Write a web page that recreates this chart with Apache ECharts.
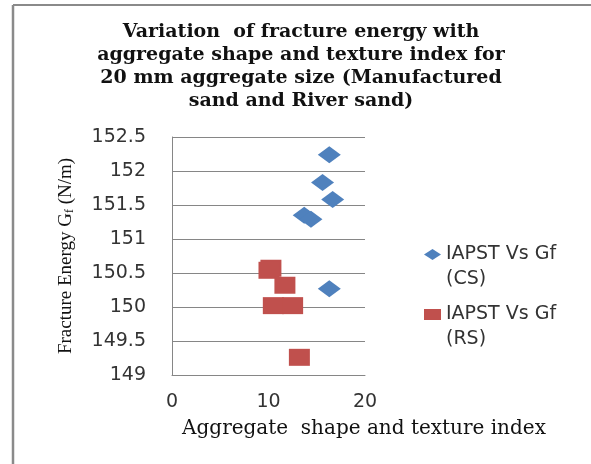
<!DOCTYPE html>
<html>
<head>
<meta charset="utf-8">
<script src="https://cdn.jsdelivr.net/npm/echarts@6/dist/echarts.min.js"></script>
<style>html,body{margin:0;padding:0;background:#fff;}#c{width:591px;height:464px;}</style>
</head>
<body>
<div id="c"></div>
<script>
const seriesNames = ['IAPST Vs Gf (CS)', 'IAPST Vs Gf (RS)'];
const csX = [16.3, 15.6, 16.65, 13.7, 14.4, 16.3];
const csY = [152.24, 151.83, 151.58, 151.35, 151.29, 150.27];
const rsX = [10.25, 10.05, 11.7, 10.5, 12.5, 13.2];
const rsY = [150.57, 150.54, 150.32, 150.02, 150.02, 149.26];
const xTicks = [0, 10, 20];
const yTicks = [149, 149.5, 150, 150.5, 151, 151.5, 152, 152.5];

const pair = (xs, ys) => xs.map((x, i) => [x, ys[i]]);
const chart = echarts.init(document.getElementById('c'));
const gray = '#868686';
chart.setOption({
  animation: false,
  backgroundColor: '#fff',
  title: {
    text: 'Variation  of fracture energy with\naggregate shape and texture index for\n20 mm aggregate size (Manufactured\nsand and River sand)',
    left: 301,
    textAlign: 'center',
    top: 21,
    padding: 0,
    textStyle: {
      fontFamily: 'DejaVu Serif', fontWeight: 'bold', fontSize: 19,
      lineHeight: 23, color: '#111'
    }
  },
  grid: { left: 172, right: 226, top: 137, bottom: 89, containLabel: false },
  xAxis: {
    type: 'value', min: xTicks[0], max: xTicks[xTicks.length - 1], interval: 10,
    name: 'Aggregate  shape and texture index',
    nameLocation: 'middle', nameGap: 44,
    nameTextStyle: { fontFamily: 'DejaVu Serif', fontSize: 20, color: '#111', padding: [0, 0, 0, 191] },
    axisLine: { show: true, lineStyle: { color: gray, width: 1 } },
    axisTick: { show: false },
    splitLine: { show: false },
    axisLabel: { margin: 18, fontFamily: 'DejaVu Sans', fontSize: 19, color: '#333' }
  },
  yAxis: {
    type: 'value', min: yTicks[0], max: yTicks[yTicks.length - 1], interval: 0.5,
    name: '{a|Fracture Energy G}{s|f}{a| (N/m)}',
    nameLocation: 'middle', nameGap: 96,
    nameTextStyle: {
      rich: {
        a: { fontFamily: 'Liberation Serif', fontSize: 19, color: '#111' },
        s: { fontFamily: 'Liberation Serif', fontSize: 12, color: '#111', verticalAlign: 'bottom', padding: [8, 0, 0, 0] }
      }
    },
    axisLine: { show: true, lineStyle: { color: gray, width: 1 } },
    axisTick: { show: false },
    splitLine: { show: true, lineStyle: { color: gray, width: 1 } },
    axisLabel: { margin: 26, fontFamily: 'DejaVu Sans', fontSize: 19, color: '#333' }
  },
  legend: {
    orient: 'vertical', left: 419, top: 237, itemWidth: 17, itemHeight: 50, itemGap: 10,
    formatter: n => n.replace(' (', '\n('),
    textStyle: { fontFamily: 'DejaVu Sans', fontSize: 19, lineHeight: 25, color: '#333' },
    data: [
      { name: seriesNames[0], icon: 'path://M8.5,7 L17,12.5 L8.5,18 L0,12.5 Z M0,0 L0,0 M17,50 L17,50' },
      { name: seriesNames[1], icon: 'path://M0,7 L17,7 L17,18 L0,18 Z M0,0 L0,0 M17,50 L17,50' }
    ]
  },
  series: [
    {
      name: seriesNames[0], type: 'scatter', symbol: 'diamond', symbolSize: [23, 17],
      itemStyle: { color: '#4F81BD', opacity: 1 },
      data: pair(csX, csY)
    },
    {
      name: seriesNames[1], type: 'scatter', symbol: 'rect', symbolSize: [21, 17],
      itemStyle: { color: '#C0504D', opacity: 1 },
      data: pair(rsX, rsY)
    }
  ],
  graphic: [
    { type: 'line', shape: { x1: 13, y1: 5, x2: 591, y2: 5 }, style: { stroke: '#8a8a8a', lineWidth: 2 }, silent: true },
    { type: 'line', shape: { x1: 13, y1: 5, x2: 13, y2: 464 }, style: { stroke: '#8a8a8a', lineWidth: 2.5 }, silent: true }
  ]
});
</script>
</body>
</html>
